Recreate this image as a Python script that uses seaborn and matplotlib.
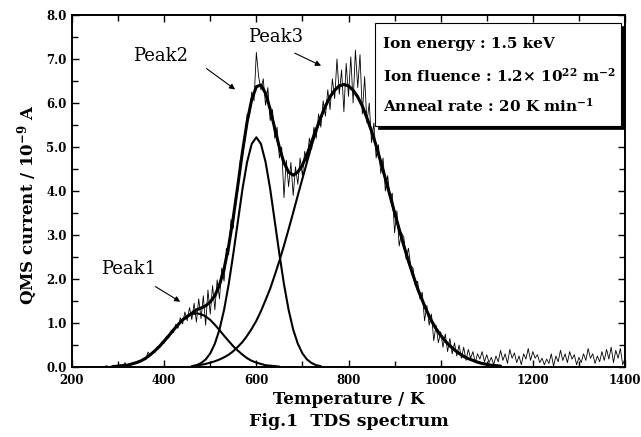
import numpy as np
import pandas as pd
import matplotlib
matplotlib.use("Agg")
import matplotlib.pyplot as plt
from matplotlib.ticker import MultipleLocator, FormatStrFormatter
from matplotlib.patches import Rectangle
import seaborn as sns

# ---------------- data ----------------
# measured QMS current (noisy), every 5 K from 270 K to 1400 K
meas_T = np.arange(270, 1405, 5)
meas_I = [
    0.01, 0.03, 0.00, 0.02, 0.04, 0.00, 0.03, 0.05, 0.01, 0.10,
    0.02, 0.06, 0.05, 0.11, 0.08, 0.14, 0.12, 0.20, 0.17, 0.34,
    0.26, 0.35, 0.33, 0.46, 0.44, 0.57, 0.54, 0.70, 0.66, 0.83,
    0.78, 0.97, 0.88, 1.12, 0.98, 1.25, 1.05, 1.35, 1.08, 1.45,
    1.02, 1.55, 1.10, 1.62, 0.95, 1.75, 1.20, 1.85, 1.30, 1.98,
    1.55, 2.25, 1.95, 2.70, 2.55, 3.35, 3.15, 3.90, 4.00, 4.70,
    4.80, 5.15, 5.75, 5.70, 6.25, 6.05, 7.15, 6.60, 6.30, 6.55,
    5.95, 6.35, 5.60, 5.85, 5.20, 5.45, 4.75, 5.00, 3.85, 4.70,
    4.10, 4.65, 3.90, 4.55, 4.15, 4.75, 4.35, 4.90, 4.65, 5.20,
    4.95, 5.45, 5.20, 5.75, 5.45, 6.05, 5.70, 6.30, 5.85, 6.55,
    6.10, 7.00, 6.20, 6.75, 5.80, 6.90, 6.15, 7.05, 6.00, 7.20,
    6.35, 7.10, 5.75, 6.60, 5.55, 6.00, 5.10, 5.55, 4.75, 5.05,
    4.40, 4.75, 4.00, 4.35, 3.85, 3.95, 3.05, 3.55, 2.75, 3.05,
    2.95, 2.45, 2.70, 2.30, 2.25, 1.85, 1.95, 1.55, 1.70, 1.05,
    1.40, 0.95, 1.20, 0.60, 0.95, 0.55, 0.80, 0.45, 0.75, 0.35,
    0.65, 0.30, 0.55, 0.25, 0.50, 0.20, 0.45, 0.15, 0.40, 0.20,
    0.35, 0.10, 0.30, 0.18, 0.35, 0.12, 0.28, 0.10, 0.22, 0.05,
    0.25, 0.12, 0.38, 0.15, 0.30, 0.08, 0.40, 0.20, 0.32, 0.10,
    0.25, 0.05, 0.30, 0.18, 0.42, 0.15, 0.35, 0.20, 0.28, 0.10,
    0.20, 0.05, 0.18, 0.08, 0.30, 0.02, 0.25, 0.12, 0.38, 0.15,
    0.30, 0.10, 0.35, 0.18, 0.28, 0.05, 0.22, 0.10, 0.30, 0.15,
    0.42, 0.20, 0.30, 0.08, 0.25, 0.12, 0.35, 0.15, 0.40, 0.18,
    0.45, 0.10, 0.38, 0.20, 0.42, 0.05, 0.20,
]

# fitted component peaks (every 10 K)
peak1_T = np.arange(290, 660, 10)
peak1_I = [0.01, 0.02, 0.03, 0.04, 0.07, 0.10, 0.14, 0.20, 0.28, 0.37,
           0.47, 0.59, 0.71, 0.84, 0.96, 1.07, 1.15, 1.20, 1.22, 1.20,
           1.15, 1.07, 0.96, 0.84, 0.71, 0.59, 0.47, 0.37, 0.28, 0.20,
           0.14, 0.10, 0.07, 0.04, 0.03, 0.02, 0.01]

peak2_T = np.arange(460, 750, 10)
peak2_I = [0.02, 0.04, 0.09, 0.17, 0.31, 0.53, 0.85, 1.30, 1.88, 2.57,
           3.31, 4.05, 4.66, 5.07, 5.22, 5.07, 4.66, 4.05, 3.31, 2.57,
           1.88, 1.30, 0.85, 0.53, 0.31, 0.17, 0.09, 0.04, 0.02]

peak3_T = np.arange(470, 1140, 10)
peak3_I = [0.04, 0.05, 0.07, 0.10, 0.13, 0.17, 0.22, 0.28, 0.36, 0.46,
           0.57, 0.71, 0.87, 1.05, 1.27, 1.52, 1.78, 2.09, 2.41, 2.76,
           3.13, 3.51, 3.90, 4.28, 4.66, 5.03, 5.36, 5.66, 5.93, 6.14,
           6.29, 6.39, 6.42, 6.39, 6.29, 6.14, 5.93, 5.66, 5.36, 5.03,
           4.66, 4.28, 3.90, 3.51, 3.13, 2.76, 2.41, 2.09, 1.78, 1.52,
           1.27, 1.05, 0.87, 0.72, 0.59, 0.48, 0.39, 0.31, 0.24, 0.19,
           0.15, 0.11, 0.08, 0.06, 0.04, 0.03, 0.02]

# total fit (sum of the three peaks), every 10 K
fit_T = np.arange(290, 1140, 10)
fit_I = [0.01, 0.02, 0.03, 0.04, 0.07, 0.10, 0.14, 0.20, 0.28, 0.37,
         0.47, 0.59, 0.71, 0.84, 0.96, 1.07, 1.15, 1.22, 1.30, 1.34,
         1.39, 1.48, 1.62, 1.86, 2.23, 2.75, 3.40, 4.14, 4.90, 5.57,
         6.08, 6.37, 6.41, 6.22, 5.86, 5.42, 4.99, 4.64, 4.43, 4.36,
         4.43, 4.59, 4.83, 5.12, 5.40, 5.68, 5.93, 6.14, 6.29, 6.39,
         6.42, 6.39, 6.29, 6.14, 5.93, 5.66, 5.36, 5.03, 4.66, 4.28,
         3.90, 3.51, 3.13, 2.76, 2.41, 2.09, 1.78, 1.52, 1.27, 1.05,
         0.87, 0.72, 0.59, 0.48, 0.39, 0.31, 0.24, 0.19, 0.15, 0.11,
         0.08, 0.06, 0.04, 0.03, 0.02]

peak_labels = ["Peak1", "Peak2", "Peak3"]
info_lines = [
    "Ion energy : 1.5 keV",
    r"Ion fluence : 1.2$\times$ 10$^{22}$ m$^{-2}$",
    r"Anneal rate : 20 K min$^{-1}$",
]

# ---------------- style ----------------
sns.set_theme(style="ticks")
plt.rcParams["font.family"] = ["DejaVu Serif"]
plt.rcParams["mathtext.fontset"] = "dejavuserif"
plt.rcParams["mathtext.default"] = "bf"
plt.rcParams["text.color"] = "black"
plt.rcParams["axes.labelcolor"] = "black"
plt.rcParams["xtick.color"] = "black"
plt.rcParams["ytick.color"] = "black"

fig = plt.figure(figsize=(6.41, 4.37), dpi=100)
ax = fig.add_axes([72 / 641, 1 - 367 / 437, 553 / 641, 352 / 437])

sns.lineplot(x=meas_T, y=meas_I, ax=ax, color="black", lw=0.6, estimator=None, sort=False)
sns.lineplot(x=peak1_T, y=peak1_I, ax=ax, color="black", lw=1.5, estimator=None, sort=False)
sns.lineplot(x=peak2_T, y=peak2_I, ax=ax, color="black", lw=1.5, estimator=None, sort=False)
sns.lineplot(x=peak3_T, y=peak3_I, ax=ax, color="black", lw=1.5, estimator=None, sort=False)
sns.lineplot(x=fit_T, y=fit_I, ax=ax, color="black", lw=2.2, estimator=None, sort=False)

ax.set_xlim(200, 1400)
ax.set_ylim(0, 8)
ax.xaxis.set_major_locator(MultipleLocator(200))
ax.xaxis.set_minor_locator(MultipleLocator(100))
ax.yaxis.set_major_locator(MultipleLocator(1.0))
ax.yaxis.set_minor_locator(MultipleLocator(0.5))
ax.yaxis.set_major_formatter(FormatStrFormatter("%.1f"))
ax.tick_params(which="both", direction="in", top=True, right=True,
               colors="black", width=1.0)
ax.tick_params(which="major", length=5)
ax.tick_params(which="minor", length=4)
ax.tick_params(axis="x", which="major", pad=5)
ax.tick_params(axis="y", which="major", pad=4)
for lab in ax.get_xticklabels() + ax.get_yticklabels():
    lab.set_fontsize(8.5)
    lab.set_fontweight("bold")
    lab.set_color("black")
for sp in ax.spines.values():
    sp.set_linewidth(1.4)
    sp.set_color("black")

ax.set_xlabel("Temperature / K", fontsize=12, fontweight="bold", labelpad=3, color="black")
ax.set_ylabel(r"QMS current / 10$^{-9}$ A", fontsize=12, fontweight="bold", color="black")
ax.yaxis.set_label_coords((40 - 72) / 553, (367 - 205) / 352)
fig.text(0.545, 1 - 422 / 437, "Fig.1  TDS spectrum", ha="center", va="center",
         fontsize=12.5, fontweight="bold", color="black")

# peak annotations
arrow_kw = dict(arrowstyle="-|>", lw=0.8, color="black", mutation_scale=8)
ax.text(322, 2.23, peak_labels[0], fontsize=13, ha="center", va="center", color="black")
ax.annotate("", xy=(440, 1.45), xytext=(376, 1.86), arrowprops=arrow_kw)
ax.text(393, 7.07, peak_labels[1], fontsize=13, ha="center", va="center", color="black")
ax.annotate("", xy=(559, 6.27), xytext=(487, 6.82), arrowprops=arrow_kw)
ax.text(641, 7.5, peak_labels[2], fontsize=13, ha="center", va="center", color="black")
ax.annotate("", xy=(746, 6.82), xytext=(678, 7.16), arrowprops=arrow_kw)

# info box with drop shadow
bx0, bx1 = (375 - 72) / 553, (621 - 72) / 553
by0, by1 = (367 - 126) / 352, (367 - 23) / 352
sdx, sdy = 3 / 553, 3 / 352
ax.add_patch(Rectangle((bx0 + sdx, by0 - sdy), bx1 - bx0, by1 - by0,
                       transform=ax.transAxes, facecolor="black", edgecolor="black",
                       lw=0.5, clip_on=False, zorder=5))
ax.add_patch(Rectangle((bx0, by0), bx1 - bx0, by1 - by0,
                       transform=ax.transAxes, facecolor="white", edgecolor="black",
                       lw=0.8, clip_on=False, zorder=6))
for i, line in enumerate(info_lines):
    ypix = [44, 76, 106][i]
    ax.text((383 - 72) / 553, (367 - ypix) / 352, line, transform=ax.transAxes,
            fontsize=11, fontweight="bold", ha="left", va="center", zorder=7,
            color="black")

fig.savefig("out.png", dpi=100)
